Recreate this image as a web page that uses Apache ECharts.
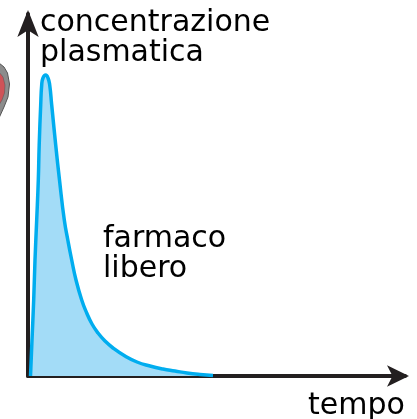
<!DOCTYPE html>
<html>
<head>
<meta charset="utf-8">
<style>
  html, body { margin: 0; padding: 0; background: #fff; }
  #grafico { width: 417px; height: 419px; }
</style>
<script src="https://cdn.jsdelivr.net/npm/echarts@6/dist/echarts.min.js"></script>
</head>
<body>
<div id="grafico"></div>
<script>
// Valori (unita' arbitrarie)
const tempo = [2.5, 4, 5.7, 7, 8.7, 10.3, 11.2, 12.7, 13.7, 15, 17.7, 20, 21.7, 23.7, 27.7, 31.5, 36.3, 40, 43.7, 48, 53.7, 58.7, 64, 70, 77, 85, 97, 109, 122, 135, 147, 159, 172, 185];
const concentrazione = [0, 36, 76, 116, 156, 196, 231, 271, 291, 298, 301, 298, 291, 271, 231, 196, 156, 135, 116, 96, 76, 63, 52, 43, 35, 28, 20, 14, 10, 7, 5, 3, 1.5, 0.5];

const titoloY = 'concentrazione\nplasmatica';
const titoloX = 'tempo';
const etichetta = 'farmaco\nlibero';

const chart = echarts.init(document.getElementById('grafico'));

const font = '30px "DejaVu Sans"';

chart.setOption({
    animation: false,
    grid: { left: 28, top: 14, width: 377, height: 362 },
    xAxis: {
        type: 'value',
        min: 0,
        max: 377,
        splitLine: { show: false },
        axisTick: { show: false },
        axisLabel: { show: false },
        axisLine: {
            onZero: false,
            symbol: ['none', 'arrow'],
            symbolSize: [16, 22],
            symbolOffset: [0, 4],
            lineStyle: { color: '#231f20', width: 4 }
        }
    },
    yAxis: {
        type: 'value',
        min: 0,
        max: 362,
        splitLine: { show: false },
        axisTick: { show: false },
        axisLabel: { show: false },
        axisLine: {
            show: true,
            onZero: false,
            symbol: ['none', 'arrow'],
            symbolSize: [16, 27],
            symbolOffset: [0, 4],
            lineStyle: { color: '#231f20', width: 4 }
        }
    },
    series: [{
        type: 'line',
        data: tempo.map((t, i) => [t, concentrazione[i]]),
        smooth: 0.5,
        showSymbol: false,
        z: 1,
        lineStyle: { color: '#00adef', width: 3.5 },
        areaStyle: { color: '#a3dcf7', opacity: 1 }
    }],
    graphic: [
        // sagoma tagliata sul bordo sinistro
        {
            type: 'polygon',
            shape: { points: [[-1, 63], [4, 67], [7.5, 73], [9.5, 84], [8, 97], [4, 107], [-1, 118]] },
            style: { fill: '#8c8c8c', stroke: '#555', lineWidth: 1 }
        },
        {
            type: 'polygon',
            shape: { points: [[-1, 72], [3, 77], [5, 85], [4.5, 93], [2, 100], [-1, 105]] },
            style: { fill: '#cf5358', stroke: '#555', lineWidth: 0.5 }
        },
        {
            type: 'text', left: 40, top: 8,
            style: { text: titoloY, font: font, lineHeight: 30, fill: '#000' }
        },
        {
            type: 'text', left: 103, top: 224,
            style: { text: etichetta, font: font, lineHeight: 30, fill: '#000' }
        },
        {
            type: 'text', left: 308, top: 391,
            style: { text: titoloX, font: font, lineHeight: 30, fill: '#000' }
        }
    ]
});
</script>
</body>
</html>
